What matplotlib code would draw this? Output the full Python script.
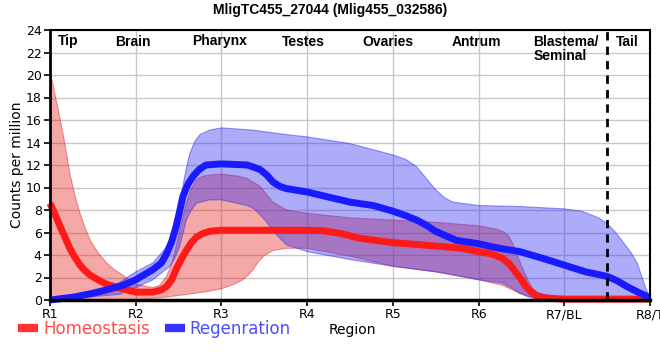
import matplotlib
matplotlib.use("Agg")
from matplotlib import pyplot as plt
from matplotlib.lines import Line2D

title = "MligTC455_27044 (Mlig455_032586)"
tick_labels = ["R1", "R2", "R3", "R4", "R5", "R6", "R7/BL", "R8/T"]
regions = ["Tip", "Brain", "Pharynx", "Testes", "Ovaries", "Antrum", "Blastema/\nSeminal", "Tail"]
region_x = [0.21, 0.97, 1.98, 2.96, 3.94, 4.98, 5.64, 6.74]

# homeostasis
homeo_x = [0, 0.06, 0.12, 0.18, 0.23, 0.29, 0.35, 0.41, 0.47, 0.56, 0.66, 0.75, 0.85, 1.0, 1.2,
           1.3, 1.36, 1.42, 1.47, 1.53, 1.59, 1.65, 1.71, 1.78, 1.86, 2.0,
           3.0, 3.2, 3.4, 3.6, 4.0, 4.5, 4.8, 5.0, 5.15, 5.28, 5.36, 5.43, 5.5, 5.55, 5.62, 5.67,
           5.75, 5.83, 6.0, 7.0]
homeo_mean = [8.6, 7.6, 6.5, 5.5, 4.6, 3.8, 3.1, 2.6, 2.2, 1.8, 1.4, 1.2, 1.0, 0.7, 0.7,
              0.9, 1.2, 1.8, 2.7, 3.6, 4.4, 5.1, 5.6, 5.9, 6.1, 6.2,
              6.2, 6.15, 5.9, 5.5, 5.1, 4.8, 4.6, 4.3, 4.1, 3.7, 3.2, 2.5, 1.8, 1.2, 0.7, 0.4,
              0.25, 0.15, 0.08, 0.08]

homeo_hi_x = [0, 0.06, 0.12, 0.18, 0.23, 0.29, 0.35, 0.41, 0.47, 0.56, 0.66, 0.75, 0.85, 1.0,
              1.2, 1.28, 1.36, 1.42, 1.47, 1.53, 1.59, 1.65, 1.71, 1.78, 1.86,
              2.0, 2.2, 2.3, 2.45, 2.6, 2.76, 3.0, 3.5, 4.0, 4.5, 5.0, 5.2, 5.28, 5.35, 5.4, 5.46,
              5.52, 5.58, 5.63, 5.7, 5.79, 6.0, 7.0]
homeo_hi = [20.4, 18.2, 16.0, 13.6, 11.3, 9.3, 7.7, 6.4, 5.3, 4.2, 3.3, 2.7, 2.2, 1.4,
            1.1, 1.3, 2.1, 3.2, 4.7, 6.7, 8.6, 9.9, 10.7, 11.0, 11.1,
            11.2, 11.0, 10.8, 10.1, 8.7, 8.0, 7.7, 7.3, 7.1, 6.9, 6.6, 6.3, 6.1, 5.7, 5.0, 3.8,
            2.7, 1.7, 1.0, 0.6, 0.3, 0.1, 0.1]

homeo_lo_x = [0, 1.0, 1.4, 1.79, 2.0, 2.15, 2.25, 2.31, 2.37, 2.43, 2.49, 2.6, 2.76, 3.0, 3.5,
              4.0, 4.6, 5.0, 5.28, 5.48, 5.67, 6.0, 7.0]
homeo_lo = [0.0, 0.02, 0.3, 0.7, 1.0, 1.4, 1.8, 2.2, 2.7, 3.4, 3.9, 4.4, 4.6, 4.6, 3.9,
            3.0, 2.4, 1.8, 1.3, 0.6, 0.15, 0.0, 0.0]

# regeneration
regen_x = [0, 0.27, 0.5, 0.66, 0.85, 1.0, 1.2, 1.3, 1.36, 1.42, 1.47, 1.51, 1.55, 1.61, 1.67,
           1.74, 1.82, 2.0, 2.3, 2.38, 2.45, 2.53, 2.6, 2.68, 2.76, 3.0, 3.5, 3.77, 4.0, 4.15,
           4.28, 4.4, 4.5, 4.62, 4.74, 5.0, 5.24, 5.48, 5.75, 6.0, 6.25, 6.5, 6.62, 6.73, 6.86, 7.0]
regen_mean = [0.0, 0.25, 0.6, 0.9, 1.3, 1.8, 2.7, 3.3, 4.1, 5.2, 6.5, 7.8, 9.2, 10.3, 11.0,
              11.6, 12.0, 12.1, 12.0, 11.8, 11.6, 11.1, 10.5, 10.1, 9.9, 9.6, 8.7, 8.4, 7.9, 7.5,
              7.1, 6.6, 6.1, 5.7, 5.3, 5.0, 4.6, 4.3, 3.7, 3.1, 2.5, 2.1, 1.7, 1.2, 0.7, 0.2]

regen_hi_x = [0, 0.5, 0.8, 1.0, 1.2, 1.36, 1.42, 1.47, 1.51, 1.55, 1.59, 1.63, 1.69, 1.75,
              1.86, 2.0, 2.37, 2.76, 3.0, 3.5, 4.0, 4.15, 4.27, 4.38, 4.5, 4.6, 4.7, 5.0, 5.5,
              6.0, 6.2, 6.3, 6.4, 6.5, 6.6, 6.7, 6.78, 6.85, 6.93, 7.0]
regen_hi = [0.2, 0.7, 1.5, 2.5, 3.3, 4.7, 5.7, 7.1, 8.6, 10.1, 11.7, 13.0, 14.1, 14.7,
            15.1, 15.3, 15.1, 14.7, 14.5, 13.9, 12.9, 12.5, 11.9, 10.9, 9.8, 9.1, 8.7, 8.4, 8.3,
            8.1, 7.9, 7.6, 7.3, 6.8, 6.0, 5.0, 4.2, 3.3, 1.5, 0.1]

regen_lo_x = [0, 0.5, 0.81, 1.0, 1.2, 1.4, 1.46, 1.51, 1.55, 1.59, 1.65, 1.71, 1.86, 2.0, 2.3,
              2.38, 2.45, 2.53, 2.6, 2.68, 2.76, 3.0, 3.5, 4.0, 4.5, 5.0, 5.28, 5.38, 5.48,
              5.57, 5.67, 6.0, 7.0]
regen_lo = [0.0, 0.3, 0.5, 1.1, 1.8, 3.0, 3.8, 4.7, 5.9, 7.1, 8.0, 8.6, 8.9, 8.9, 8.4,
            8.1, 7.6, 6.9, 6.2, 5.5, 4.9, 4.3, 3.6, 3.0, 2.5, 1.8, 1.5, 1.1, 0.6,
            0.3, 0.1, 0.0, 0.0]

red = "#ff1a1a"
blue = "#1a1aff"

fig = plt.figure(figsize=(6.6, 3.6), dpi=100)
ax = fig.add_axes([50 / 660, 60 / 360, 600 / 660, 270 / 360])

ax.fill(homeo_hi_x + homeo_lo_x[::-1], homeo_hi + homeo_lo[::-1],
        facecolor=(0.9, 0.1, 0.1, 0.38), edgecolor=(0.85, 0.2, 0.2, 0.5), lw=0.8)
ax.fill(regen_hi_x + regen_lo_x[::-1], regen_hi + regen_lo[::-1],
        facecolor=(0.15, 0.15, 0.95, 0.38), edgecolor=(0.2, 0.2, 0.9, 0.5), lw=0.8)

ax.plot(homeo_x, homeo_mean, color=red, lw=5, solid_capstyle="butt",
        solid_joinstyle="round", clip_on=False)
ax.plot(regen_x, regen_mean, color=blue, lw=5, solid_capstyle="butt",
        solid_joinstyle="round", clip_on=False)

ax.axvline(6.5, color="k", lw=2, ls=(0, (3, 2.2)))

ax.set_xlim(0, 7)
ax.set_ylim(0, 24)
ax.set_xticks(range(8))
ax.set_xticklabels(tick_labels, fontsize=9, fontweight="medium")
ax.set_yticks(range(0, 25, 2))
ax.tick_params(axis="y", labelsize=9, length=4, width=1.2, pad=2)
ax.tick_params(axis="x", length=4, width=1.2, pad=2)
ax.grid(color="#c8c8c8", lw=1)
ax.set_axisbelow(True)
for side, w in [("left", 2), ("bottom", 2.5), ("top", 1.5), ("right", 1.5)]:
    ax.spines[side].set_linewidth(w)
    ax.spines[side].set_color("k")

for x, lab in zip(region_x, regions):
    ha = "left" if "/" in lab else "center"
    ax.text(x, 23.6, lab, ha=ha, va="top", fontsize=10, fontweight="bold",
            family="Liberation Sans", linespacing=1.0)

fig.text(0.5, 1 - 10 / 360, title, ha="center", va="center", fontsize=10,
         fontweight="bold", family="Liberation Sans")
ax.set_ylabel("Counts per million", fontsize=10, labelpad=1)
fig.text(352 / 660, 1 - 330 / 360, "Region", ha="center", va="center", fontsize=10)

handles = [Line2D([], [], color="#ff3333", lw=6, solid_capstyle="butt"),
           Line2D([], [], color="#3333ff", lw=6, solid_capstyle="butt")]
fig.legend(handles, ["Homeostasis", "Regenration"], loc="center left",
           bbox_to_anchor=(3 / 660, 1 - 329 / 360), ncol=2, frameon=False,
           fontsize=12, handlelength=1.2, handletextpad=0.3, columnspacing=0.9,
           labelcolor=["#ff4d4d", "#4d4dff"])

fig.savefig("out.png", dpi=100)
